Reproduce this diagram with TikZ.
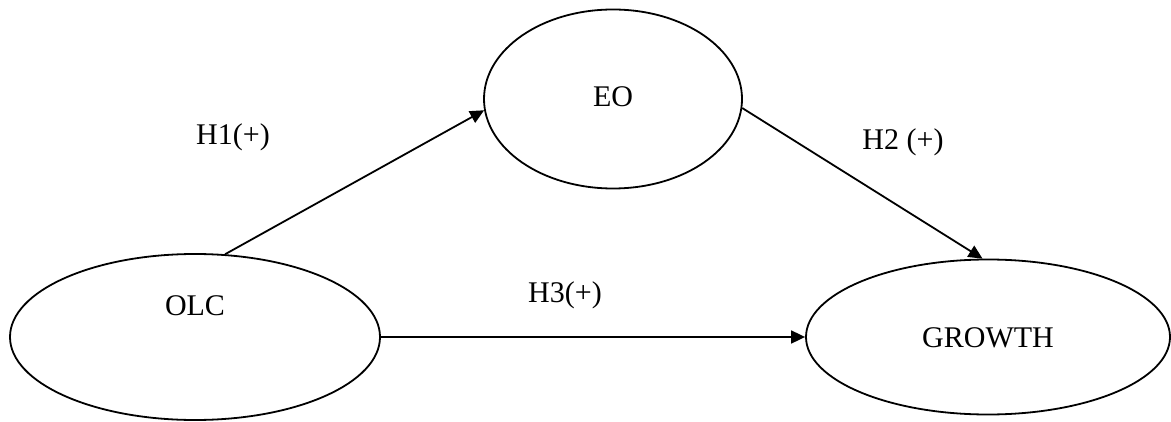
\documentclass[tikz,border=0pt]{standalone}
\usepackage{fontspec}
\setmainfont{Liberation Serif}
\usepackage{tikz}
\usetikzlibrary{arrows.meta,shapes.geometric}

\begin{document}
\begin{tikzpicture}[
  x=0.5pt,y=-0.5pt,
  oval/.style={ellipse,draw=black,line width=0.9pt,inner sep=0pt,font=\fontsize{15}{18}\selectfont},
  hyp/.style={anchor=base,inner sep=0pt,font=\fontsize{15}{18}\selectfont},
  arrow/.style={-{Triangle[length=7pt,width=6.5pt]},line width=0.9pt,draw=black}
]
\useasboundingbox (0,0) rectangle (1171,422);
\node[oval,minimum width=185pt,minimum height=83pt,text height=11pt,text depth=33pt] (olc) at (195,337) {OLC};
\node[oval,minimum width=129pt,minimum height=89.5pt,text height=8pt,text depth=0pt] (eo) at (613,99) {EO};
\node[oval,minimum width=182pt,minimum height=77.5pt,text height=10pt,text depth=-2pt] (growth) at (988,337) {GROWTH};
\node[hyp] (h1) at (233,145) {H1(+)};
\node[hyp] (h2) at (903,150) {H2 (+)};
\node[hyp] (h3) at (565,302) {H3(+)};
\draw[arrow] (olc.70) -- (eo.185);
\draw[arrow] (eo.-4) -- (growth.94);
\draw[arrow] (olc) -- (growth);
\end{tikzpicture}
\end{document}
